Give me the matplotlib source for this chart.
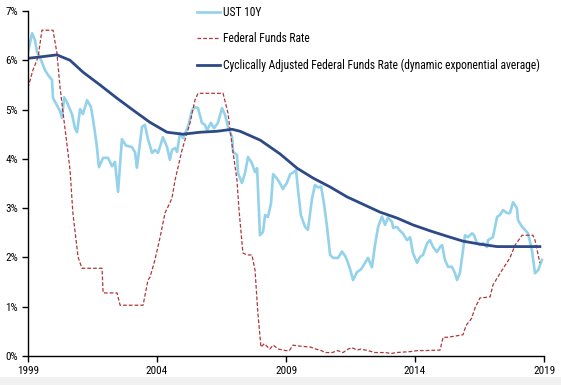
import matplotlib
matplotlib.use("Agg")
import matplotlib.pyplot as plt
from matplotlib.patches import Rectangle
from matplotlib import font_manager

# ---------------- data ----------------
ust_years = [1999.00, 1999.16, 1999.27, 1999.35, 1999.47, 1999.54, 1999.66, 1999.78, 1999.93, 1999.97,
             2000.12, 2000.24, 2000.32, 2000.40, 2000.51, 2000.71, 2000.82, 2000.90, 2001.02, 2001.13,
             2001.21, 2001.29, 2001.44, 2001.52, 2001.60, 2001.67, 2001.75, 2001.91, 2002.10, 2002.26,
             2002.37, 2002.49, 2002.64, 2002.80, 2003.03, 2003.15, 2003.22, 2003.42, 2003.53, 2003.65,
             2003.81, 2003.92, 2004.04, 2004.23, 2004.39, 2004.50, 2004.58, 2004.70, 2004.78, 2004.89,
             2005.01, 2005.20, 2005.36, 2005.47, 2005.59, 2005.74, 2005.86, 2005.94, 2006.09, 2006.21,
             2006.36, 2006.52, 2006.64, 2006.75, 2006.91, 2006.95, 2007.10, 2007.14, 2007.29, 2007.41,
             2007.53, 2007.68, 2007.80, 2007.88, 2007.91, 2007.99, 2008.11, 2008.19, 2008.30, 2008.42,
             2008.50, 2008.65, 2008.77, 2008.88, 2009.04, 2009.16, 2009.27, 2009.39, 2009.47, 2009.58,
             2009.74, 2009.85, 2010.01, 2010.12, 2010.24, 2010.36, 2010.47, 2010.59, 2010.71, 2010.83,
             2011.02, 2011.17, 2011.29, 2011.36, 2011.48, 2011.60, 2011.75, 2011.91, 2012.06, 2012.18,
             2012.33, 2012.45, 2012.57, 2012.72, 2012.84, 2012.95, 2013.11, 2013.15, 2013.30, 2013.42,
             2013.53, 2013.69, 2013.81, 2013.92, 2014.08, 2014.19, 2014.31, 2014.47, 2014.58, 2014.70,
             2014.85, 2014.97, 2015.05, 2015.16, 2015.28, 2015.43, 2015.55, 2015.63, 2015.74, 2015.86,
             2015.94, 2016.05, 2016.21, 2016.29, 2016.40, 2016.52, 2016.64, 2016.79, 2016.83, 2017.02,
             2017.18, 2017.29, 2017.41, 2017.57, 2017.68, 2017.80, 2017.95, 2017.99, 2018.15, 2018.26,
             2018.38, 2018.53, 2018.65, 2018.77, 2018.92]
ust_10y = [6.17, 6.55, 6.41, 6.17, 6.05, 5.96, 5.80, 5.70, 5.60, 5.23,
           5.09, 4.97, 4.83, 5.25, 5.15, 4.90, 4.62, 4.54, 5.01, 4.91,
           5.05, 5.19, 5.05, 4.80, 4.52, 4.24, 3.83, 4.02, 4.02, 3.85,
           3.94, 3.33, 4.40, 4.27, 4.24, 4.13, 3.82, 4.65, 4.69, 4.40,
           4.12, 4.18, 4.12, 4.44, 4.24, 3.98, 4.18, 4.22, 4.14, 4.52,
           4.42, 4.65, 4.99, 5.05, 5.03, 4.73, 4.69, 4.58, 4.73, 4.62,
           4.73, 5.03, 4.89, 4.65, 4.44, 4.14, 4.08, 3.71, 3.51, 3.71,
           4.04, 3.91, 3.73, 3.81, 3.43, 2.45, 2.52, 2.86, 2.82, 3.10,
           3.69, 3.60, 3.50, 3.39, 3.52, 3.69, 3.72, 3.77, 3.35, 2.85,
           2.62, 2.56, 3.20, 3.47, 3.42, 3.44, 3.10, 2.62, 2.05, 1.99,
           1.99, 2.12, 2.03, 1.95, 1.77, 1.54, 1.70, 1.76, 1.89, 1.99,
           1.80, 2.25, 2.62, 2.83, 2.66, 2.81, 2.72, 2.60, 2.62, 2.54,
           2.49, 2.35, 2.41, 2.09, 1.89, 2.01, 2.05, 2.29, 2.35, 2.21,
           2.11, 2.21, 2.25, 1.95, 1.81, 1.81, 1.68, 1.54, 1.68, 2.15,
           2.45, 2.41, 2.49, 2.45, 2.29, 2.25, 2.29, 2.21, 2.35, 2.41,
           2.82, 2.86, 2.96, 2.90, 2.90, 3.12, 3.00, 2.76, 2.62, 2.56,
           2.49, 2.15, 1.68, 1.74, 1.95]

ffr_years = [1999.00, 1999.19, 1999.39, 1999.54, 1999.97, 2000.12, 2000.24, 2000.36, 2000.55, 2000.63,
             2000.74, 2000.94, 2001.09, 2001.87, 2001.91, 2002.45, 2002.57, 2003.46, 2003.65, 2003.73,
             2003.92, 2004.12, 2004.31, 2004.58, 2004.70, 2004.97, 2005.28, 2005.47, 2005.59, 2006.56,
             2006.75, 2006.95, 2007.10, 2007.18, 2007.33, 2007.49, 2007.68, 2007.80, 2007.91, 2008.03,
             2008.16, 2008.37, 2008.50, 2008.71, 2008.99, 2009.13, 2009.27, 2009.54, 2009.96, 2010.16,
             2010.37, 2010.51, 2010.79, 2011.00, 2011.21, 2011.41, 2011.55, 2011.76, 2011.90, 2012.17,
             2012.45, 2012.86, 2013.07, 2013.28, 2013.83, 2014.11, 2014.39, 2014.97, 2015.09, 2015.28,
             2015.50, 2015.86, 2015.98, 2016.19, 2016.33, 2016.52, 2016.60, 2016.91, 2017.02, 2017.37,
             2017.68, 2017.88, 2018.15, 2018.57, 2018.65, 2018.84]
ffr = [5.44, 5.80, 6.06, 6.61, 6.61, 6.15, 5.46, 4.93, 4.12, 3.77,
       2.90, 2.01, 1.78, 1.78, 1.28, 1.28, 1.03, 1.03, 1.54, 1.60,
       1.95, 2.41, 2.90, 3.20, 3.57, 4.18, 4.73, 5.19, 5.33, 5.33,
       4.93, 4.12, 3.57, 2.96, 2.09, 2.05, 2.05, 1.74, 0.87, 0.18,
       0.25, 0.14, 0.22, 0.14, 0.11, 0.11, 0.22, 0.20, 0.18, 0.14,
       0.11, 0.07, 0.07, 0.11, 0.07, 0.14, 0.17, 0.12, 0.14, 0.11,
       0.07, 0.07, 0.05, 0.07, 0.09, 0.11, 0.11, 0.12, 0.38, 0.38,
       0.40, 0.43, 0.62, 0.76, 0.98, 1.18, 1.18, 1.20, 1.44, 1.74,
       1.99, 2.25, 2.45, 2.45, 2.35, 1.89]

cafr_years = [1999.00, 1999.50, 2000.12, 2000.63, 2001.13, 2001.79, 2002.45, 2003.07, 2003.73, 2004.39,
              2005.01, 2005.67, 2006.33, 2006.91, 2007.22, 2008.00, 2008.77, 2009.43, 2010.05, 2010.71,
              2011.36, 2011.98, 2012.64, 2013.30, 2013.92, 2014.58, 2015.24, 2015.86, 2016.52, 2017.18,
              2018.84]
cafr = [6.04, 6.07, 6.11, 6.00, 5.76, 5.50, 5.23, 4.99, 4.74, 4.54,
        4.50, 4.54, 4.56, 4.60, 4.56, 4.38, 4.10, 3.81, 3.61, 3.43,
        3.23, 3.08, 2.92, 2.80, 2.66, 2.54, 2.43, 2.33, 2.27, 2.22,
        2.22]

x_ticks = [1999, 2004, 2009, 2014, 2019]
y_ticks = [0, 1, 2, 3, 4, 5, 6, 7]
y_labels = ["0%", "1%", "2%", "3%", "4%", "5%", "6%", "7%"]
series_names = ["UST 10Y", "Federal Funds Rate",
                "Cyclically Adjusted Federal Funds Rate (dynamic exponential average)"]

# ---------------- style ----------------
avail = {f.name for f in font_manager.fontManager.ttflist}
fam = [f for f in ["Liberation Sans Narrow", "Roboto Condensed", "Open Sans", "DejaVu Sans"] if f in avail]
plt.rcParams['font.family'] = fam

c_ust = "#93d2ea"
c_ffr = "#b0363a"
c_cafr = "#2d4a86"

fig = plt.figure(figsize=(5.61, 3.85), dpi=100)
fig.patches.append(Rectangle((0, 0), 1, 8 / 385, transform=fig.transFigure,
                             facecolor="#f1f1f1", edgecolor="none", zorder=0))
ax = fig.add_axes([28 / 561, (385 - 356) / 385, (544 - 28) / 561, (356 - 11) / 385])

ax.plot(ust_years, ust_10y, color=c_ust, lw=1.9, label=series_names[0], solid_joinstyle="round")
ax.plot(ffr_years, ffr, color=c_ffr, lw=0.9, ls=(0, (3, 1.6)), label=series_names[1])
ax.plot(cafr_years, cafr, color=c_cafr, lw=2.0, label=series_names[2])

ax.set_xlim(1999, 2019)
ax.set_ylim(0, 7)
ax.set_xticks(x_ticks)
ax.set_xticklabels([str(t) for t in x_ticks])
ax.set_yticks(y_ticks)
ax.set_yticklabels(y_labels)
for s in ["top", "right"]:
    ax.spines[s].set_visible(False)
for s in ["left", "bottom"]:
    ax.spines[s].set_color("black")
    ax.spines[s].set_linewidth(1.0)
ax.tick_params(axis="both", direction="out", length=4, width=1, labelsize=8, colors="black", pad=3)
ax.patch.set_alpha(0)

leg = ax.legend(loc="upper left", bbox_to_anchor=((192 - 28) / 516, 1.028), frameon=False,
                fontsize=8.3, handlelength=2.0, handletextpad=0.3, labelspacing=1.15,
                borderaxespad=0)

fig.savefig("out.png", dpi=100)
